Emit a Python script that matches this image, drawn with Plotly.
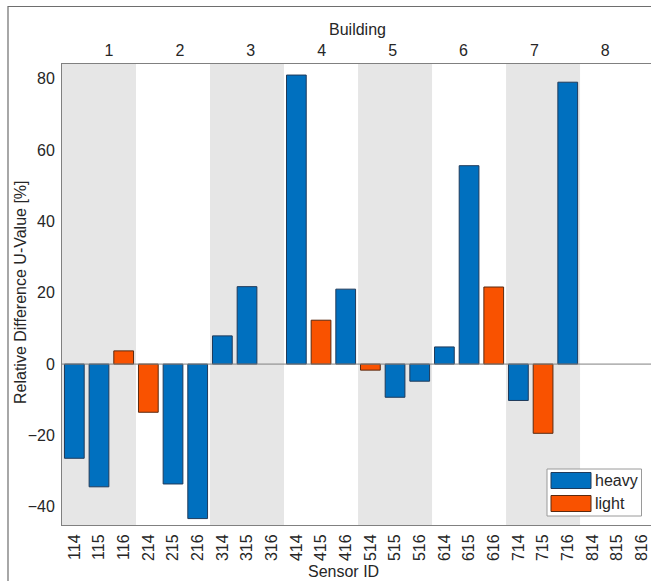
import plotly.graph_objects as go

sensors = ["114", "115", "116", "214", "215", "216", "314", "315", "316",
           "414", "415", "416", "514", "515", "516", "614", "615", "616",
           "714", "715", "716", "814", "815", "816"]
heavy = [-26.4, -34.4, None, None, -33.6, -43.3, 7.9, 21.7, None,
         81.0, None, 21.0, None, -9.3, -4.8, 4.8, 55.6, None,
         -10.2, None, 79.0, None, None, None]
light = [None, None, 3.7, -13.5, None, None, None, None, None,
         None, 12.3, None, -1.7, None, None, None, None, 21.6,
         None, -19.4, None, None, None, None]
buildings = ["1", "2", "3", "4", "5", "6", "7", "8"]
y_ticks = [-40, -20, 0, 20, 40, 60, 80]

HEAVY_C = "#0070BF"
LIGHT_C = "#F95200"
TXT = "#262626"
AX = "#808080"
FONT = "Liberation Sans, Arial, sans-serif"
FS = 16

W, H = 651, 581
L, R, T, B = 62, 0, 64, 56
pw, ph = W - L - R, H - T - B

def px(x):
    return (x - L) / pw

def py(y):
    return (H - B - y) / ph

xs = list(range(len(sensors)))

fig = go.Figure()
fig.add_trace(go.Bar(x=xs, y=heavy, name="heavy", width=0.8,
                     marker=dict(color=HEAVY_C, line=dict(color="#1f3a5a", width=1)),
                     showlegend=False))
fig.add_trace(go.Bar(x=xs, y=light, name="light", width=0.8,
                     marker=dict(color=LIGHT_C, line=dict(color="#5a2a10", width=1)),
                     showlegend=False))
# invisible trace to activate the top axis
fig.add_trace(go.Scatter(x=[1, 8], y=[None, None], xaxis="x2", yaxis="y",
                         showlegend=False, hoverinfo="skip"))

shapes = []
# shaded buildings 1,3,5,7
for k in range(0, len(buildings), 2):
    shapes.append(dict(type="rect", xref="x", yref="paper",
                       x0=3 * k - 0.5, x1=3 * k + 2.5, y0=0, y1=1,
                       fillcolor="#E6E6E6", line=dict(width=0), layer="below"))
# zero baseline
shapes.append(dict(type="line", xref="paper", yref="y", x0=0, x1=1, y0=0, y1=0,
                   line=dict(color=AX, width=1)))
# outer figure border
shapes.append(dict(type="rect", xref="paper", yref="paper",
                   x0=px(8), x1=px(W + 20), y0=py(6.5), y1=py(H + 20),
                   line=dict(color="#6e6e6e", width=1.2), fillcolor="rgba(0,0,0,0)"))
# legend box
shapes.append(dict(type="rect", xref="paper", yref="paper",
                   x0=px(547), x1=px(641.5), y0=py(516), y1=py(469),
                   line=dict(color="#9a9a9a", width=1), fillcolor="white"))
shapes.append(dict(type="rect", xref="paper", yref="paper",
                   x0=px(551), x1=px(591), y0=py(488.5), y1=py(472.5),
                   line=dict(color="#1f3a5a", width=1), fillcolor=HEAVY_C))
shapes.append(dict(type="rect", xref="paper", yref="paper",
                   x0=px(551), x1=px(591), y0=py(511.5), y1=py(495.5),
                   line=dict(color="#5a2a10", width=1), fillcolor=LIGHT_C))

annotations = [
    dict(text="heavy", xref="paper", yref="paper", x=px(593), y=py(480.5),
         xanchor="left", yanchor="middle", showarrow=False, font=dict(size=FS, color=TXT)),
    dict(text="light", xref="paper", yref="paper", x=px(593), y=py(503.5),
         xanchor="left", yanchor="middle", showarrow=False, font=dict(size=FS, color=TXT)),
    dict(text="Building", xref="paper", yref="paper", x=px(357), y=py(30),
         xanchor="center", yanchor="middle", showarrow=False, font=dict(size=FS, color=TXT)),
    dict(text="Sensor ID", xref="paper", yref="paper", x=px(343), y=py(571),
         xanchor="center", yanchor="middle", showarrow=False, font=dict(size=FS, color=TXT)),
    dict(text="Relative Difference U-Value [%]", xref="paper", yref="paper",
         x=px(20), y=py(292), textangle=-90,
         xanchor="center", yanchor="middle", showarrow=False, font=dict(size=FS, color=TXT)),
]

fig.update_layout(
    width=W, height=H,
    margin=dict(l=L, r=R, t=T, b=B, pad=0),
    paper_bgcolor="white", plot_bgcolor="white",
    font=dict(family=FONT, size=FS, color=TXT),
    barmode="overlay",
    shapes=shapes, annotations=annotations,
    xaxis=dict(range=[-0.5, 23.375], tickmode="array", tickvals=xs, ticktext=sensors,
               tickangle=-90, showgrid=False, zeroline=False,
               showline=True, linecolor=AX, linewidth=1, mirror=False,
               ticks="outside", ticklen=2, tickcolor="rgba(0,0,0,0)"),
    xaxis2=dict(overlaying="x", side="top", range=[0.337, 8.645],
                tickmode="array", tickvals=list(range(1, len(buildings) + 1)),
                ticktext=buildings, showgrid=False, zeroline=False,
                showline=True, linecolor=AX, linewidth=1,
                ticks="outside", ticklen=1, tickcolor="rgba(0,0,0,0)"),
    yaxis=dict(range=[-45.1, 84.1], tickmode="array", tickvals=y_ticks,
               showgrid=False, zeroline=False, showline=True, linecolor=AX, linewidth=1,
               ticks="outside", ticklen=3, tickcolor="rgba(0,0,0,0)"),
)

fig.write_html("out.html", config={"displayModeBar": False},
               post_script="document.body.style.margin='0';document.body.style.overflow='hidden';")
